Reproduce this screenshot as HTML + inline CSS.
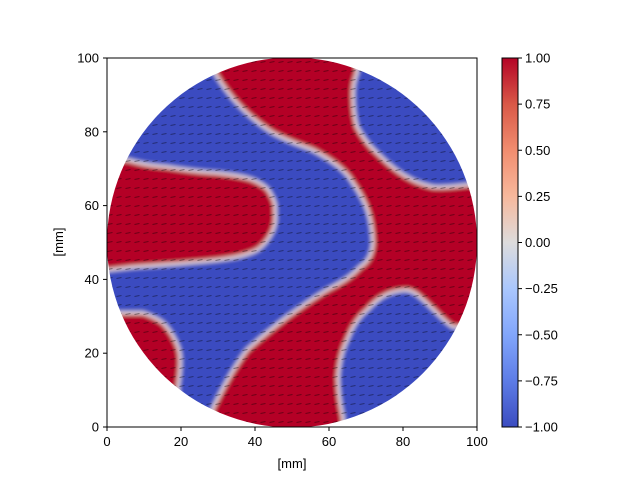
<!DOCTYPE html>
<html><head><meta charset="utf-8">
<style>
body{margin:0;background:#fff;}
svg{display:block;font-family:"Liberation Sans",sans-serif;}
</style></head>
<body>
<svg id="chart" width="640" height="480" viewBox="0 0 640 480">
<defs>
<clipPath id="disk"><circle cx="292" cy="242.5" r="185"/></clipPath>
<filter id="blur" x="-5%" y="-5%" width="110%" height="110%"><feGaussianBlur stdDeviation="2"/></filter>
<linearGradient id="cb" x1="0" y1="1" x2="0" y2="0">
<stop offset="0" stop-color="#3b4cc0"/><stop offset="0.125" stop-color="#5d7ce6"/>
<stop offset="0.25" stop-color="#82a6fb"/><stop offset="0.375" stop-color="#aac7fd"/>
<stop offset="0.5" stop-color="#dddcdc"/><stop offset="0.625" stop-color="#f7b89c"/>
<stop offset="0.75" stop-color="#f18d6f"/><stop offset="0.875" stop-color="#d95847"/>
<stop offset="1" stop-color="#b40426"/></linearGradient>
</defs>
<g clip-path="url(#disk)">
<g filter="url(#blur)" stroke="#efe6e2" stroke-width="3">
<circle cx="292" cy="242.5" r="200" fill="#b40426" stroke="none"/>
<path fill="#3b4cc0" d="M90,40 L215,55 L215,73 C228,95 245,115 273,133 C290,142 300,145 313,150 C335,162 347,172 353,183 C365,200 372,215 373,243 C372,255 368,262 360,267 C350,278 340,283 327,290 C310,300 300,308 287,317 C270,330 258,340 247,350 C232,370 222,390 213,408 L205,440 L90,440 Z"/>
<path fill="#b40426" d="M90,160 L128,160 C145,165 155,166 167,167 C185,170 200,172 217,173 C235,175 245,177 253,180 C262,184 268,188 270,193 C274,200 276,205 275,210 C276,220 275,226 272,232 C268,240 263,246 257,250 C245,256 232,258 217,260 C190,263 160,265 133,267 L108,270 L90,272 Z"/>
<path fill="#b40426" d="M90,313 L123,313 L143,313 C152,316 158,319 163,323 C169,329 172,334 175,340 C178,346 180,352 180,357 C181,367 179,378 178,387 L178,430 L90,430 Z"/>
<path fill="#3b4cc0" d="M357,40 L357,73 C354,80 353,86 353,93 C353,105 354,117 357,127 C363,138 369,146 377,153 C387,163 396,171 407,177 C415,182 424,185 433,187 C445,188 456,186 467,185 L500,183 L500,40 Z"/>
<path fill="#3b4cc0" d="M343,440 L343,418 C340,405 338,390 338,377 C339,363 342,350 347,340 C352,327 358,317 367,310 C374,302 382,296 390,293 C396,291 401,290 407,290 C412,291 416,293 420,297 C426,302 431,307 437,313 C443,319 448,324 453,327 L470,327 L500,440 Z"/>
</g>
<g id="arrows"></g>
</g>
<rect x="107" y="58" width="370" height="369" fill="none" stroke="#000" stroke-width="1"/>
<g id="xticks"></g>
<g id="yticks"></g>
<text x="292" y="468" font-size="13" text-anchor="middle">[mm]</text>
<text x="63" y="242" font-size="13" text-anchor="middle" transform="rotate(-90 63 242)">[mm]</text>
<rect x="502" y="58" width="16" height="369" fill="url(#cb)"/>
<rect x="502" y="58" width="16" height="369" fill="none" stroke="#000" stroke-width="1"/>
<g id="cbticks"></g>
</svg>
<script>
const xTicks=[0,20,40,60,80,100];
const yTicks=[0,20,40,60,80,100];
const cbTicks=[-1.00,-0.75,-0.50,-0.25,0.00,0.25,0.50,0.75,1.00];
const NS="http://www.w3.org/2000/svg";
function X(v){return 107+v*3.7;}
function Y(v){return 427-v*3.69;}
function CB(v){return 427-(v+1)/2*369;}
function mk(tag,attrs,parent){const e=document.createElementNS(NS,tag);for(const k in attrs)e.setAttribute(k,attrs[k]);parent.appendChild(e);return e;}
const xg=document.getElementById('xticks');
xTicks.forEach(v=>{
 const l=mk('line',{x1:X(v),x2:X(v),y1:427,y2:431,stroke:'#000'},xg);
 
 
 const t=mk('text',{x:X(v),y:446,'font-size':13,'text-anchor':'middle'},xg);t.textContent=v;
 
 
});
const yg=document.getElementById('yticks');
yTicks.forEach(v=>{
 const l=mk('line',{x1:103,x2:107,y1:Y(v),y2:Y(v),stroke:'#000'},yg);
 
 
 const t=mk('text',{x:99,y:Y(v)+4.5,'font-size':13,'text-anchor':'end'},yg);t.textContent=v;
 
 
});
const cg=document.getElementById('cbticks');
cbTicks.forEach(v=>{
 const l=mk('line',{x1:518,x2:522,y1:CB(v),y2:CB(v),stroke:'#000'},cg);
 
 
 const t=mk('text',{x:525,y:CB(v)+4.5,'font-size':13},cg);t.textContent=(v<0?'\u2212':'')+Math.abs(v).toFixed(2);
 
 
});
const ag=document.getElementById('arrows');
for(let x=110;x<477;x+=9){for(let y=62;y<427;y+=9){
 const a=mk('line',{x1:x-2.5,y1:y+0.5,x2:x+2.5,y2:y-0.5,stroke:'#000','stroke-width':1,opacity:0.4},ag);
 
 
}}
</script>
</body></html>
